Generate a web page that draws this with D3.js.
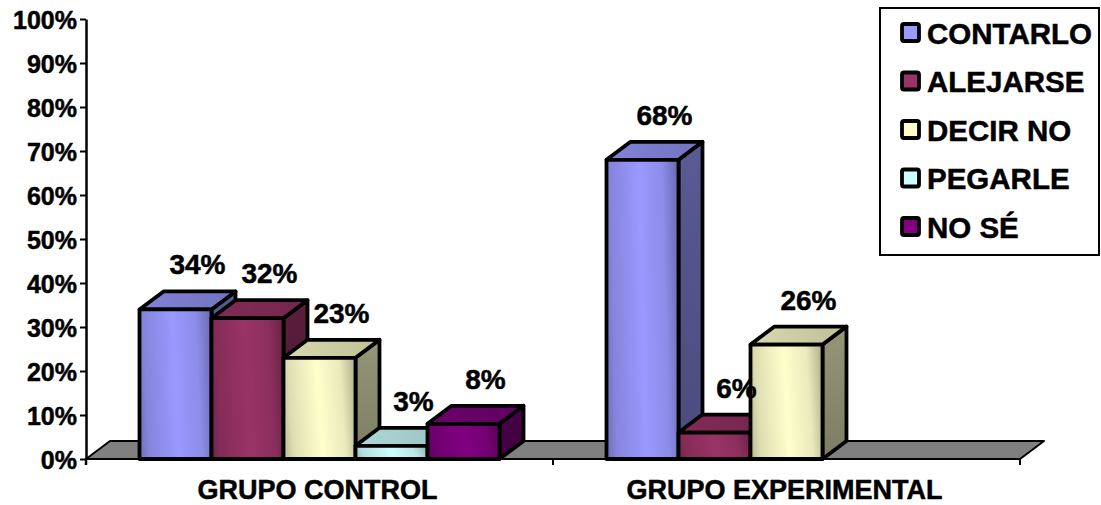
<!DOCTYPE html>
<html>
<head>
<meta charset="utf-8">
<script src="https://cdn.jsdelivr.net/npm/d3@7"></script>
<style>
  body { margin: 0; background: #fff; }
  svg text { font-family: "Liberation Sans", Arial, sans-serif; font-weight: bold; fill: #000; stroke: #000; stroke-width: 0.5px; }
</style>
</head>
<body>
<svg id="chart" width="1101" height="505"></svg>
<script>
// Answers per group (share of children), one entry per answer option
const groups = ["GRUPO CONTROL", "GRUPO EXPERIMENTAL"];
const seriesNames = ["CONTARLO", "ALEJARSE", "DECIR NO", "PEGARLE", "NO SÉ"];
const controlValues = [0.34, 0.32, 0.23, 0.03, 0.08];
const experimentalValues = [0.68, 0.06, 0.26, null, null];
const seriesColors = ["#9999FF", "#993366", "#FFFFCC", "#CCFFFF", "#800080"];
const yTickValues = [0, 0.1, 0.2, 0.3, 0.4, 0.5, 0.6, 0.7, 0.8, 0.9, 1];

const valuesByGroup = [controlValues, experimentalValues];

const svg = d3.select("#chart");

// plot frame
const x0 = 86, x1 = 1020, yBase = 459, yTop = 19;
const depth = { dx: 24, dy: -18 };

const y = d3.scaleLinear().domain([0, 1]).range([yBase, yTop]);
const xGroup = d3.scaleBand().domain(groups).range([x0, x1]).padding(0);
const gw = xGroup.bandwidth();
const xSeries = d3.scaleBand().domain(seriesNames).range([53.5, gw - 53.5]).padding(0);
const color = d3.scaleOrdinal().domain(seriesNames).range(seriesColors);

// gradients for shaded faces
const defs = svg.append("defs");
seriesNames.forEach((s, i) => {
  const c = d3.color(color(s));
  const front = defs.append("linearGradient").attr("id", "front" + i)
    .attr("x1", 0).attr("y1", 0.55).attr("x2", 1).attr("y2", 0.45);
  [[0, 0.75], [0.1, 0.4], [0.5, 0], [0.82, 0.25], [1, 0.9]].forEach(([o, k]) =>
    front.append("stop").attr("offset", o).attr("stop-color", c.darker(k)));
  const side = defs.append("linearGradient").attr("id", "side" + i)
    .attr("x1", 0).attr("y1", 0).attr("x2", 0).attr("y2", 1);
  side.append("stop").attr("offset", 0).attr("stop-color", c.darker(1.5));
  side.append("stop").attr("offset", 1).attr("stop-color", c.darker(2.0));
  const top = defs.append("linearGradient").attr("id", "top" + i)
    .attr("x1", 0).attr("y1", 0).attr("x2", 1).attr("y2", 0);
  top.append("stop").attr("offset", 0).attr("stop-color", c.darker(0.45));
  top.append("stop").attr("offset", 1).attr("stop-color", c.darker(0.8));
});

// floor
const floor = [[x0, yBase], [x0 + depth.dx, yBase + depth.dy], [x1 + depth.dx, yBase + depth.dy], [x1, yBase]];
svg.append("path")
  .attr("d", d3.line()(floor) + "Z")
  .attr("fill", "#808080").attr("stroke", "#000").attr("stroke-width", 2).attr("stroke-linejoin", "round");

// x axis ticks at group boundaries
const boundaries = [x0, ...groups.map(g => xGroup(g) + gw)];
svg.append("g").selectAll("line").data(boundaries).join("line")
  .attr("x1", d => d).attr("x2", d => d).attr("y1", yBase).attr("y2", yBase + 6)
  .attr("stroke", "#000").attr("stroke-width", 2);

// y axis
const yAxis = d3.axisLeft(y).tickValues(yTickValues).tickFormat(d3.format(".0%"))
  .tickSize(6).tickSizeOuter(0).tickPadding(3);
const yg = svg.append("g").attr("transform", `translate(${x0},0)`).call(yAxis);
yg.select(".domain").attr("stroke", "#000").attr("stroke-width", 2.5);
yg.selectAll(".tick line").attr("stroke", "#000").attr("stroke-width", 2);
yg.selectAll(".tick text").attr("font-size", 25).attr("dy", "0.36em")
  .style("font-family", '"Liberation Sans", Arial, sans-serif').style("font-weight", "bold");
svg.append("line").attr("x1", x0).attr("x2", x0).attr("y1", yBase).attr("y2", yBase + 6)
  .attr("stroke", "#000").attr("stroke-width", 2.5);

// bars: front, top and right side of each box, painted left to right
const bars = [];
groups.forEach((g, gi) => {
  seriesNames.forEach((s, si) => {
    const v = valuesByGroup[gi][si];
    if (v == null) return;
    bars.push({ g, s, si, v });
  });
});

const barG = svg.append("g");
bars.forEach(b => {
  const bx = xGroup(b.g) + xSeries(b.s);
  const bw = xSeries.bandwidth();
  const yt = y(b.v);
  const { dx, dy } = depth;
  const g = barG.append("g")
    .attr("stroke", "#000").attr("stroke-width", 3.8).attr("stroke-linejoin", "round");
  g.append("path").attr("fill", `url(#side${b.si})`)
    .attr("d", d3.line()([[bx + bw, yBase], [bx + bw, yt], [bx + bw + dx, yt + dy], [bx + bw + dx, yBase + dy]]) + "Z");
  g.append("path").attr("fill", `url(#top${b.si})`)
    .attr("d", d3.line()([[bx, yt], [bx + dx, yt + dy], [bx + bw + dx, yt + dy], [bx + bw, yt]]) + "Z");
  g.append("path").attr("fill", `url(#front${b.si})`)
    .attr("d", d3.line()([[bx, yBase], [bx, yt], [bx + bw, yt], [bx + bw, yBase]]) + "Z");
});

// value labels
svg.append("g").selectAll("text").data(bars).join("text")
  .attr("x", d => xGroup(d.g) + xSeries(d.s) + xSeries.bandwidth() / 2 + 22)
  .attr("y", d => y(d.v) - 35)
  .attr("text-anchor", "middle").attr("font-size", 28)
  .text(d => d3.format(".0%")(d.v));

// category labels
svg.append("g").selectAll("text").data(groups).join("text")
  .attr("x", d => xGroup(d) + gw / 2 - 2)
  .attr("y", 499)
  .attr("text-anchor", "middle").attr("font-size", 27)
  .text(d => d);

// legend
const lg = svg.append("g");
lg.append("rect").attr("x", 880).attr("y", 8).attr("width", 219).attr("height", 247)
  .attr("fill", "#fff").attr("stroke", "#000").attr("stroke-width", 2);
const rows = lg.selectAll("g.row").data(seriesNames).join("g").attr("class", "row")
  .attr("transform", (d, i) => `translate(0,${33 + i * 48.5})`);
rows.append("rect").attr("x", 902).attr("y", -9).attr("width", 17).attr("height", 17).attr("rx", 2)
  .attr("fill", d => color(d)).attr("stroke", "#000").attr("stroke-width", 3.8);
rows.append("text").attr("x", 927).attr("y", 10.5).attr("font-size", 29.5).text(d => d);
</script>
</body>
</html>
